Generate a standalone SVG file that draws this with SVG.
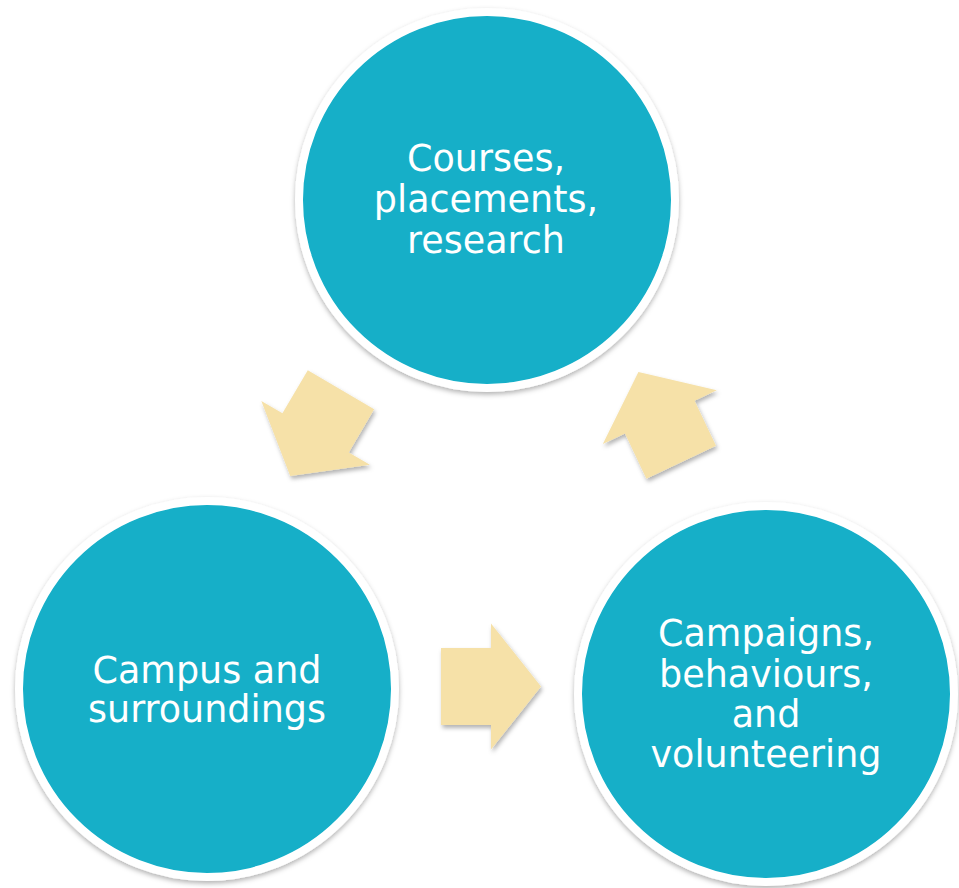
<svg xmlns="http://www.w3.org/2000/svg" xmlns:xlink="http://www.w3.org/1999/xlink" width="959" height="888" viewBox="0 0 959 888">
  <style>
    .node { fill: #12AFC8; stroke: #FFFFFF; stroke-width: 8; }
    .label { font-family: "DejaVu Sans", Verdana, "Liberation Sans", sans-serif; font-size: 36.5px; fill: #FFFFFF; text-anchor: middle; }
    .arrow { fill: #F6E1A8; }
  </style>
  <defs>
    <filter id="shadow" x="-20%" y="-20%" width="140%" height="140%">
      <feDropShadow dx="0" dy="2.5" stdDeviation="2.5" flood-color="#000000" flood-opacity="0.3"/>
    </filter>
    <filter id="ashadow" x="-30%" y="-30%" width="160%" height="160%">
      <feDropShadow dx="1.5" dy="3" stdDeviation="2" flood-color="#000000" flood-opacity="0.3"/>
    </filter>
    <polygon id="arrowShape" points="-50,-38.5 0,-38.5 0,-63 50,0 0,63 0,38.5 -50,38.5"/>
  </defs>
  <rect width="959" height="888" fill="#FFFFFF"/>

  <g id="connectors">
    <g filter="url(#ashadow)">
      <use xlink:href="#arrowShape" class="arrow" transform="translate(315.6,432.9) rotate(120.5)"/>
    </g>
    <g filter="url(#ashadow)">
      <use xlink:href="#arrowShape" class="arrow" transform="translate(491,686.5)"/>
    </g>
    <g filter="url(#ashadow)">
      <use xlink:href="#arrowShape" class="arrow" transform="translate(659.8,417.1) rotate(-115.3)"/>
    </g>
  </g>

  <g id="node-courses">
    <circle class="node" cx="487" cy="200" r="188" filter="url(#shadow)"/>
    <text class="label" x="486" y="171">Courses,</text>
    <text class="label" x="486" y="212">placements,</text>
    <text class="label" x="486" y="253">research</text>
  </g>

  <g id="node-campus">
    <circle class="node" cx="207" cy="689" r="188" filter="url(#shadow)"/>
    <text class="label" x="207" y="683">Campus and</text>
    <text class="label" x="207" y="722">surroundings</text>
  </g>

  <g id="node-campaigns">
    <circle class="node" cx="766" cy="694" r="188" filter="url(#shadow)"/>
    <text class="label" x="766" y="646">Campaigns,</text>
    <text class="label" x="766" y="687">behaviours,</text>
    <text class="label" x="766" y="727">and</text>
    <text class="label" x="766" y="767">volunteering</text>
  </g>
</svg>
